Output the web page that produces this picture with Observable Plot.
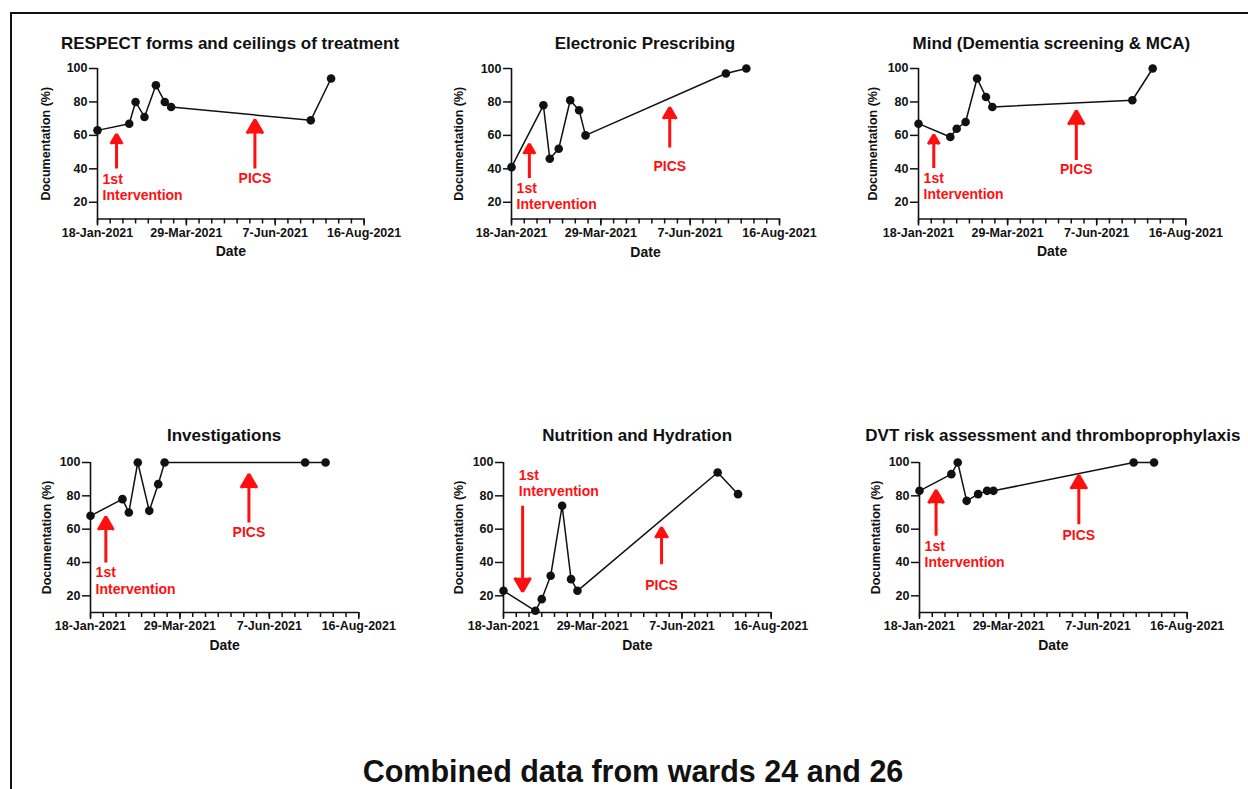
<!DOCTYPE html>
<html>
<head>
<meta charset="utf-8">
<script src="https://cdn.jsdelivr.net/npm/d3@7"></script>
<script src="https://cdn.jsdelivr.net/npm/@observablehq/plot@0.6"></script>
<style>
  body { margin: 0; background: #fff; font-family: "Liberation Sans", Arial, sans-serif; }
  #fig { position: relative; width: 1248px; height: 789px; overflow: hidden; background: #fff; }
  .frame { position: absolute; left: 10px; top: 12px; width: 1300px; height: 820px;
           border-top: 2px solid #111; border-left: 2px solid #111; }
  .ptitle { position: absolute; font-weight: bold; font-size: 17px; color: #111; white-space: nowrap;
            transform: translate(-50%, -50%); }
  .panel { position: absolute; }
  .panel svg { display: block; max-width: none; }
  #main { position: absolute; left: 633px; top: 771px; transform: translate(-50%, -50%);
          font-weight: bold; font-size: 30.5px; white-space: nowrap; color: #111; }
</style>
</head>
<body>
<div id="fig"><div class="frame"></div><div id="main">Combined data from wards 24 and 26</div></div>
<script>
// ---------------- DATA ----------------
const panelTitles = [
  "RESPECT forms and ceilings of treatment",
  "Electronic Prescribing",
  "Mind (Dementia screening & MCA)",
  "Investigations",
  "Nutrition and Hydration",
  "DVT risk assessment and thromboprophylaxis"
];
const auditDates = ["2021-01-18","2021-02-12","2021-02-17","2021-02-24","2021-03-05","2021-03-12","2021-03-17","2021-07-05","2021-07-21"];
const respectValues        = [63, 67, 80, 71, 90, 80, 77, 69, 94];
const prescribingValues    = [41, 78, 46, 52, 81, 75, 60, 97, 100];
const mindValues           = [67, 59, 64, 68, 94, 83, 77, 81, 100];
const investigationValues  = [68, 78, 70, 100, 71, 87, 100, 100, 100];
const nutritionValues      = [23, 11, 18, 32, 74, 30, 23, 94, 81];
const dvtValues            = [83, 93, 100, 77, 81, 83, 83, 100, 100];
const panelSeries = [respectValues, prescribingValues, mindValues, investigationValues, nutritionValues, dvtValues];

const xTickLabels = ["18-Jan-2021", "29-Mar-2021", "7-Jun-2021", "16-Aug-2021"];
const yTickValues = [20, 40, 60, 80, 100];

// annotation arrows (data space): "1st Intervention" and "PICS"
const interventionArrowDate  = ["2021-02-02","2021-02-01","2021-01-30","2021-01-30","2021-02-02","2021-01-31"];
const interventionArrowFrom  = [40.2, 34.5, 40.5, 40, 74, 56];
const interventionArrowTo    = [60.7, 54.8, 60.4, 67.4, 22.6, 83.4];
const interventionLabelDate  = ["2021-01-22","2021-01-22","2021-01-22","2021-01-22","2021-01-30","2021-01-22"];
const interventionLabelValue = [29.1, 23.9, 29.7, 29.3, 88, 45.2];
const picsArrowDate  = ["2021-05-22","2021-05-22","2021-05-22","2021-05-22","2021-05-22","2021-05-23"];
const picsArrowFrom  = [40.2, 52.8, 45.3, 64, 39, 63];
const picsArrowTo    = [69.4, 76.7, 74.7, 93, 61, 92.4];
const picsLabelValue = [34.1, 41.3, 39.3, 58, 26, 56.4];

// ---------------- LAYOUT ----------------
const layout = [
  {left: 96.7,  right: 363.3,  top: 67.5,  bottom: 218,   titleY: 43.5,  yLabelOffset: 51.5},
  {left: 511,   right: 779,    top: 67.5,  bottom: 218,   titleY: 43.5,  yLabelOffset: 52.5},
  {left: 917.7, right: 1185,   top: 67.5,  bottom: 218,   titleY: 43.5,  yLabelOffset: 46},
  {left: 90,    right: 358.3,  top: 461.5, bottom: 611.5, titleY: 435.5, yLabelOffset: 43.5},
  {left: 503.3, right: 771,    top: 461.5, bottom: 611.5, titleY: 435.5, yLabelOffset: 45},
  {left: 919,   right: 1186.7, top: 461.5, bottom: 611.5, titleY: 435.5, yLabelOffset: 44}
];

const parseISO = d3.utcParse("%Y-%m-%d");
const parseLabel = d3.utcParse("%d-%b-%Y");
const fmtLabel = d3.utcFormat("%-d-%b-%Y");
const majorTicks = xTickLabels.map(parseLabel);
const xStart = majorTicks[0], xEnd = majorTicks[majorTicks.length - 1];
const minorTicks = d3.range(0, 211, 10).map(k => d3.utcDay.offset(xStart, k));

const RED = "#ff1010";
const INK = "#111";
const FONT = "'Liberation Sans', Arial, sans-serif";
const fig = document.getElementById("fig");

panelSeries.forEach((values, i) => {
  const L = layout[i];
  const mL = 70, mR = 45, mT = 10, mB = 46;
  const w = L.right - L.left, h = L.bottom - L.top;
  const rows = auditDates.map((d, k) => ({date: parseISO(d), value: values[k]}));
  const arrows = [
    {date: parseISO(interventionArrowDate[i]), from: interventionArrowFrom[i], to: interventionArrowTo[i]},
    {date: parseISO(picsArrowDate[i]), from: picsArrowFrom[i], to: picsArrowTo[i]}
  ];
  const labels1 = [{date: parseISO(interventionLabelDate[i]), value: interventionLabelValue[i], text: "1st\nIntervention"}];
  const labels2 = [{date: parseISO(picsArrowDate[i]), value: picsLabelValue[i], text: "PICS"}];

  const chart = Plot.plot({
    width: w + mL + mR,
    height: h + mT + mB,
    marginLeft: mL, marginRight: mR, marginTop: mT, marginBottom: mB,
    style: {fontFamily: FONT, color: INK, background: "transparent", overflow: "visible", fontWeight: "bold"},
    x: {type: "utc", domain: [xStart, xEnd], label: null, axis: null},
    y: {domain: [10, 100], label: null, axis: null},
    marks: [
      Plot.ruleY([10], {stroke: INK, strokeWidth: 1.6}),
      Plot.ruleX([xStart], {y1: 10, y2: 100, stroke: INK, strokeWidth: 1.6}),
      Plot.axisY(yTickValues, {tickSize: 8, tickPadding: 2, fontSize: 12.5, fontWeight: "bold", strokeWidth: 1.5, label: null}),
      Plot.axisX(minorTicks, {tickSize: 5, tickFormat: () => "", strokeWidth: 1.5, label: null}),
      Plot.axisX(majorTicks, {tickSize: 7, tickPadding: 2, tickFormat: fmtLabel, fontSize: 12.5, fontWeight: "bold", strokeWidth: 1.5, label: null}),
      Plot.text(["Date"], {frameAnchor: "bottom", dy: 37.5, fontSize: 14, fontWeight: "bold"}),
      Plot.text(["Documentation (%)"], {frameAnchor: "left", textAnchor: "middle", rotate: -90, dx: -L.yLabelOffset, fontSize: 12.5, fontWeight: "bold"}),
      Plot.line(rows, {x: "date", y: "value", stroke: INK, strokeWidth: 1.5}),
      Plot.dot(rows, {x: "date", y: "value", r: 4.3, fill: INK, stroke: "none"}),
      Plot.arrow(arrows, {x1: "date", x2: "date", y1: "from", y2: "to", stroke: RED, fill: RED, strokeWidth: 3, headLength: 8, headAngle: 60, strokeLinecap: "butt"}),
      Plot.text(labels1, {x: "date", y: "value", text: "text", textAnchor: "start", lineHeight: 1.15, fill: RED, fontSize: 14, fontWeight: "bold"}),
      Plot.text(labels2, {x: "date", y: "value", text: "text", textAnchor: "middle", fill: RED, fontSize: 14, fontWeight: "bold"})
    ]
  });

  const div = document.createElement("div");
  div.className = "panel";
  div.style.left = (L.left - mL) + "px";
  div.style.top = (L.top - mT) + "px";
  div.style.width = (w + mL + mR) + "px";
  div.appendChild(chart);
  fig.appendChild(div);

  const t = document.createElement("div");
  t.className = "ptitle";
  t.textContent = panelTitles[i];
  t.style.left = ((L.left + L.right) / 2) + "px";
  t.style.top = L.titleY + "px";
  fig.appendChild(t);
});
</script>
</body>
</html>
